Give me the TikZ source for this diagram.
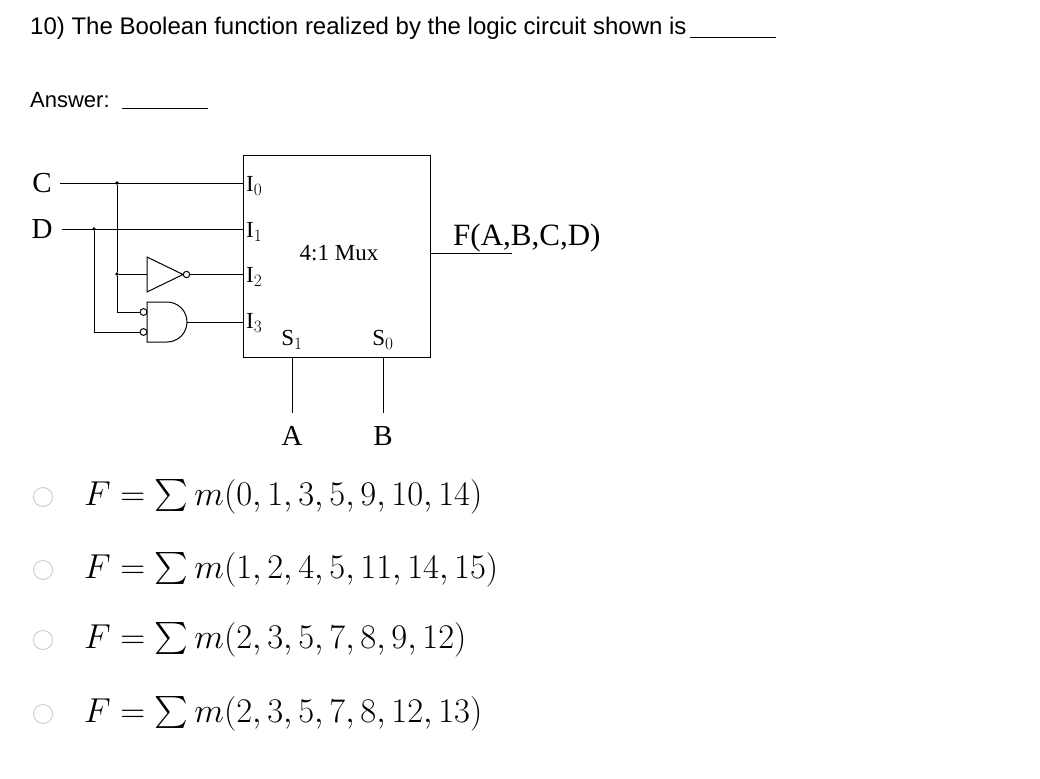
\documentclass[tikz,border=0pt]{standalone}
\usepackage{fontspec}
\usepackage{graphicx}
\setmainfont{Liberation Serif}
\newfontfamily\uisans{Liberation Sans}
\newcommand{\bigsum}{\mathop{\vcenter{\hbox{\scalebox{2.3}{$\sum$}}}}\nolimits}
\newcommand{\optmath}[1]{\scalebox{1.39}{$#1$}}
\begin{document}
\begin{tikzpicture}[x=1pt,y=-1pt,
  wire/.style={line width=1pt},
  dot/.style={circle,fill,inner sep=1.4pt},
  lbl/.style={inner sep=0pt,font=\fontsize{23}{23}\selectfont},
  big/.style={inner sep=0pt,font=\fontsize{29}{29}\selectfont},
  radio/.style={draw=gray!45,line width=0.8pt,circle,minimum size=19pt,inner sep=0pt},
  opt/.style={anchor=west,inner sep=0pt,font=\fontsize{24.88}{25}\selectfont}]
\useasboundingbox (0,0) rectangle (1040,778);
% header
\node[anchor=west,inner sep=0pt,font=\uisans\fontsize{24}{24}\selectfont] (q) at (30,28) {10) The Boolean function realized by the logic circuit shown is};
\coordinate (u1) at (690,38); \coordinate (u2) at (776,38);
\draw[line width=1pt] (u1) -- (u2);
\node[anchor=west,inner sep=0pt,font=\uisans\fontsize{22}{22}\selectfont] (ans) at (30,100) {Answer:};
\coordinate (a1) at (122,109); \coordinate (a2) at (208,109);
\draw[line width=1pt] (a1) -- (a2);
% mux
\node[draw,wire,minimum width=187pt,minimum height=202pt,anchor=north west,inner sep=0pt] (mux) at (243,155) {};
\node[lbl] (mt) at (339,253) {4:1 Mux};
\node[lbl,anchor=west] (i0) at (246,186) {I$_0$};
\node[lbl,anchor=west] (i1) at (246,232) {I$_1$};
\node[lbl,anchor=west] (i2) at (246,277) {I$_2$};
\node[lbl,anchor=west] (i3) at (246,323) {I$_3$};
\node[lbl] (s1) at (292,340) {S$_1$};
\node[lbl] (s0) at (383,340) {S$_0$};
\coordinate (p0) at (243,183); \coordinate (p1) at (243,229);
\coordinate (p2) at (243,274); \coordinate (p3) at (243,322);
% inputs
\node[big] (C) at (42,183) {C};
\node[big] (D) at (42,229) {D};
\coordinate (cw) at (60,183); \coordinate (dw) at (62,229);
\node[dot] (jc) at (117,183) {};
\node[dot] (jd) at (94,229) {};
\node[dot] (jc2) at (117,274) {};
\draw[wire] (cw) -- (p0);
\draw[wire] (dw) -- (p1);
% inverter
\draw[wire] (147,257) -- (183,274.5) -- (147,292) -- cycle;
\draw[wire] (186.5,274.5) circle (3.2);
\coordinate (ninv) at (189.7,274); \coordinate (iin) at (147,274);
\draw[wire] (jc) -- (jc2) -- (iin);
\draw[wire] (ninv) -- (p2);
% AND
\draw[wire] (167,302) -- (147,302) -- (147,342) -- (167,342) arc (90:-90:20);
\draw[wire] (143.5,312) circle (3.4);
\draw[wire] (143.5,332) circle (3.4);
\coordinate (ain1) at (140,312); \coordinate (ain2) at (140,332);
\coordinate (aout) at (187,322);
\draw[wire] (jc2) -- (117,312) -- (ain1);
\draw[wire] (jd) -- (94,332) -- (ain2);
\draw[wire] (aout) -- (p3);
% selects
\node[big] (A) at (292,436) {A};
\node[big] (B) at (383,436) {B};
\draw[wire] (292,357) -- (292,413);
\draw[wire] (383,357) -- (383,413);
% output
\coordinate (fo) at (512,253);
\draw[wire] (430,253) -- (fo);
\node[anchor=west,inner sep=0pt,font=\fontsize{31}{31}\selectfont] (F) at (453,238) {F(A,B,C,D)};
% options
\node[radio] (r1) at (43,497) {};
\node[radio] (r2) at (43,570) {};
\node[radio] (r3) at (43,640) {};
\node[radio] (r4) at (43,714) {};
\node[opt] (o1) at (84,497) {\optmath{F=\bigsum m(0,1,3,5,9,10,14)}};
\node[opt] (o2) at (84,570) {\optmath{F=\bigsum m(1,2,4,5,11,14,15)}};
\node[opt] (o3) at (84,640) {\optmath{F=\bigsum m(2,3,5,7,8,9,12)}};
\node[opt] (o4) at (84,714) {\optmath{F=\bigsum m(2,3,5,7,8,12,13)}};
\end{tikzpicture}
\end{document}
